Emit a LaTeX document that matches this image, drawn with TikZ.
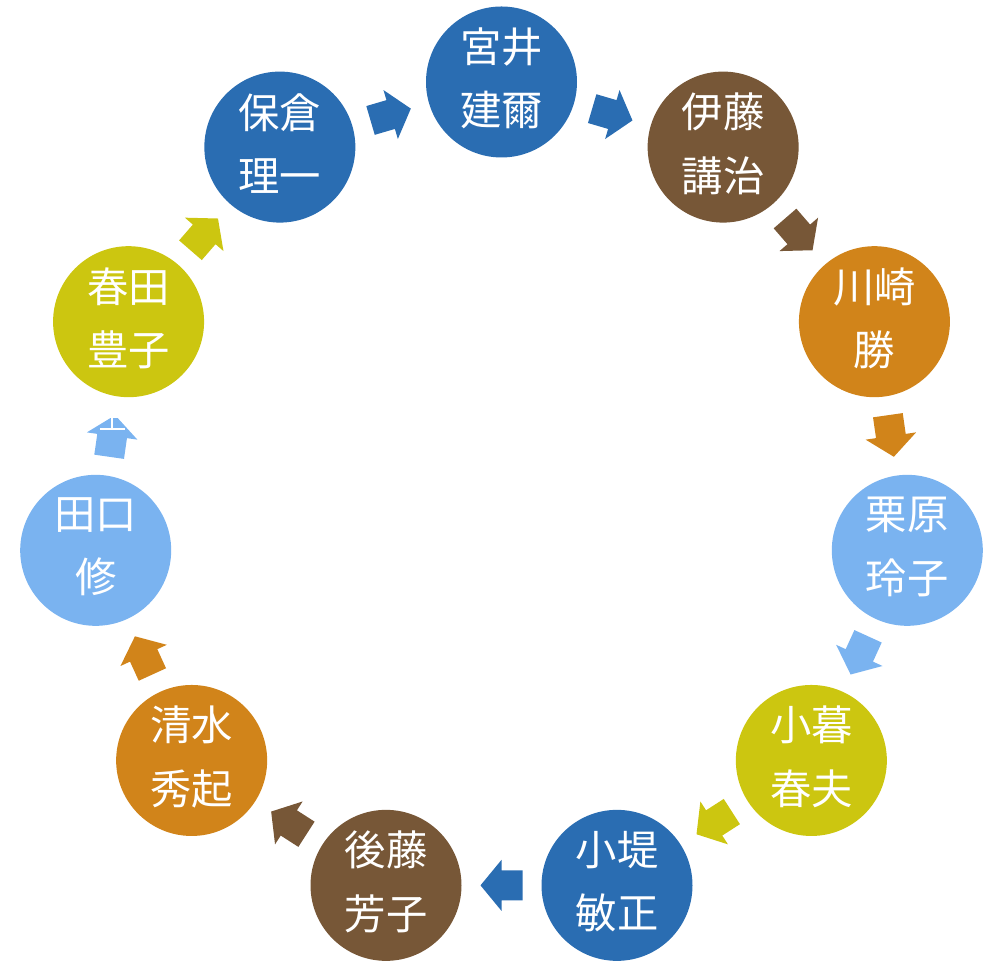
\documentclass[tikz,border=0pt]{standalone}
\usepackage{fontspec}
\newfontfamily\cjk{Noto Sans CJK JP}
\usetikzlibrary{calc}
\definecolor{cblue}{HTML}{2A6DB2}
\definecolor{cbrown}{HTML}{775737}
\definecolor{corange}{HTML}{D1841A}
\definecolor{clblue}{HTML}{7AB3F0}
\definecolor{cyellow}{HTML}{CCC610}
\tikzset{
  circ/.style={circle, minimum size=113.25pt, inner sep=0pt},
  txt/.style={text=white, align=center, inner sep=0pt, font=\cjk\fontsize{31}{47.6}\selectfont},
}
\begin{document}
\begin{tikzpicture}[x=0.75pt,y=0.75pt]
\useasboundingbox (0,0) rectangle (990,963);
\foreach \i/\col/\la/\lb in {0/cblue/宮井/建爾, 1/cbrown/伊藤/講治, 2/corange/川崎/勝, 3/clblue/栗原/玲子, 4/cyellow/小暮/春夫, 5/cblue/小堤/敏正, 6/cbrown/後藤/芳子, 7/corange/清水/秀起, 8/clblue/田口/修, 9/cyellow/春田/豊子, 10/cblue/保倉/理一} {
  \pgfmathsetmacro\th{\i*360/11}
  \node[circ, fill=\col] (c\i) at ({501.5+410*sin(\th)},{471+410*cos(\th)}) {};
  \node[txt] (t\i) at ($(c\i)+(0,3.5)$) {\la\\\lb};
}
\foreach \i/\col in {0/cblue, 1/cbrown, 2/corange, 3/clblue, 4/cyellow, 5/cblue, 6/cbrown, 7/corange, 8/clblue, 9/cyellow, 10/cblue} {
  \pgfmathtruncatemacro\j{mod(\i+1,11)}
  \pgfmathsetmacro\ph{(\i+0.5)*360/11}
  \fill[\col, shift={($(c\i)!0.5!(c\j)$)}, rotate=-\ph]
    (-21,-15) -- (0,-15) -- (0,-25.5) -- (21,0) -- (0,25.5) -- (0,15) -- (-21,15) -- cycle;
}
% rendering artefact on the arrow above 田口
\draw[white, line width=1.5pt] (100,534) -- (125,534);
\draw[white, line width=1.5pt] (112,534) -- (112,546);
\fill[white] (100,545) rectangle (125,552);
\end{tikzpicture}
\end{document}
